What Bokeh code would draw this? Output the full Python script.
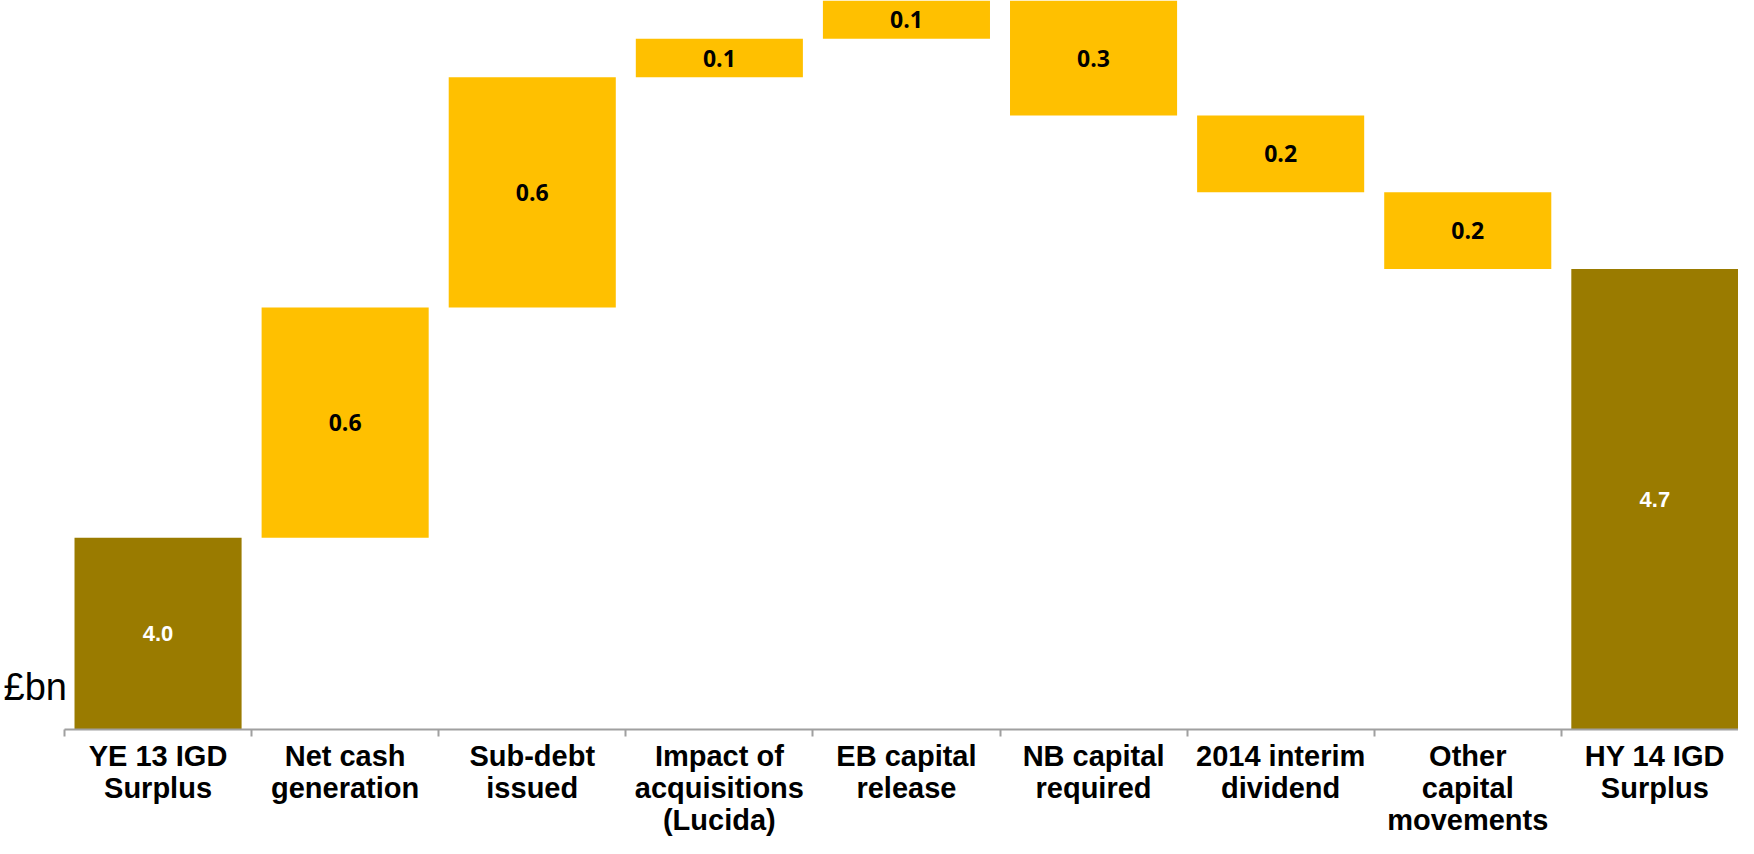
from bokeh.plotting import figure
from bokeh.models import ColumnDataSource, Range1d, FixedTicker
from bokeh.core.properties import value
from bokeh.embed import file_html
from bokeh.resources import INLINE

categories = ["YE 13 IGD\nSurplus", "Net cash\ngeneration", "Sub-debt\nissued",
              "Impact of\nacquisitions\n(Lucida)", "EB capital\nrelease", "NB capital\nrequired",
              "2014 interim\ndividend", "Other\ncapital\nmovements", "HY 14 IGD\nSurplus"]
start_value = 4.0
changes = [0.6, 0.6, 0.1, 0.1, -0.3, -0.2, -0.2]
end_value = 4.7
unit_label = "£bn"

total_color = "#9A7B00"
change_color = "#FFC000"

# build waterfall
xs, bottoms, tops, colors, labels, label_y = [], [], [], [], [], []
xs.append(0); bottoms.append(0); tops.append(start_value); colors.append(total_color)
running = start_value
for i, c in enumerate(changes):
    b, t = (running, running + c) if c >= 0 else (running + c, running)
    xs.append(i + 1); bottoms.append(b); tops.append(t); colors.append(change_color)
    running += c
xs.append(len(changes) + 1); bottoms.append(0); tops.append(end_value); colors.append(total_color)

y_floor = 3.5
y_top = 5.4
vals = [start_value] + changes + [end_value]
for i in range(len(xs)):
    labels.append("%.1f" % abs(vals[i]))
    lo = max(bottoms[i], y_floor)
    label_y.append((lo + tops[i]) / 2)

src = ColumnDataSource(dict(x=xs, bottom=bottoms, top=tops, color=colors))
tot_idx = [0, len(xs) - 1]
chg_idx = list(range(1, len(xs) - 1))
src_tot = ColumnDataSource(dict(x=[xs[i] for i in tot_idx], y=[label_y[i] for i in tot_idx],
                                t=[labels[i] for i in tot_idx]))
src_chg = ColumnDataSource(dict(x=[xs[i] for i in chg_idx], y=[label_y[i] for i in chg_idx],
                                t=[labels[i] for i in chg_idx]))

cat_w = 187.1
fig_w = 1738
left_pad = 64
x0 = -0.5 - left_pad / cat_w
p = figure(width=fig_w, height=838, output_backend="svg", toolbar_location=None,
           x_range=Range1d(x0, x0 + fig_w / cat_w), y_range=Range1d(y_floor, y_top),
           min_border_left=0, min_border_right=0, min_border_top=0, min_border_bottom=0)
p.outline_line_color = None
p.xgrid.visible = False
p.ygrid.visible = False
p.yaxis.visible = False
p.background_fill_color = "white"
p.border_fill_color = "white"

p.vbar(x="x", bottom="bottom", top="top", width=0.893, color="color", line_color=None, source=src)

p.text(x="x", y="y", text="t", source=src_tot, text_align="center",
       text_baseline="middle", text_color="white", text_font=value("Liberation Sans"),
       text_font_style="bold", text_font_size="22px")
p.text(x="x", y="y", text="t", source=src_chg, text_align="center",
       text_baseline="middle", text_color="black", text_font=value("Open Sans"),
       text_font_style="bold", text_font_size="23px")

ax = p.xaxis[0]
ax.bounds = (-0.5, len(categories) - 0.5)
ax.ticker = FixedTicker(ticks=list(range(len(categories))),
                        minor_ticks=[i - 0.5 for i in range(len(categories) + 1)])
ax.major_label_overrides = {i: c for i, c in enumerate(categories)}
ax.major_tick_line_color = None
ax.major_tick_in = 0
ax.major_tick_out = 0
ax.minor_tick_in = 0
ax.minor_tick_out = 7
ax.minor_tick_line_color = "#A0A0A0"
ax.minor_tick_line_width = 2
ax.axis_line_color = "#A0A0A0"
ax.axis_line_width = 2
ax.major_label_standoff = 3
ax.major_label_text_font = "Liberation Sans"
ax.major_label_text_font_style = "bold"
ax.major_label_text_font_size = "29px"
ax.major_label_text_line_height = 1.0
ax.major_label_text_color = "black"

# unit label inside the frame, left of the first bar
p.text(x=[x0 + 3 / cat_w], y=[y_floor + 42 / 379.0], text=[unit_label], text_align="left",
       text_baseline="alphabetic", text_font=value("Liberation Sans"), text_font_size="38px",
       text_color="black")

open("out.html", "w").write(file_html(p, INLINE))
